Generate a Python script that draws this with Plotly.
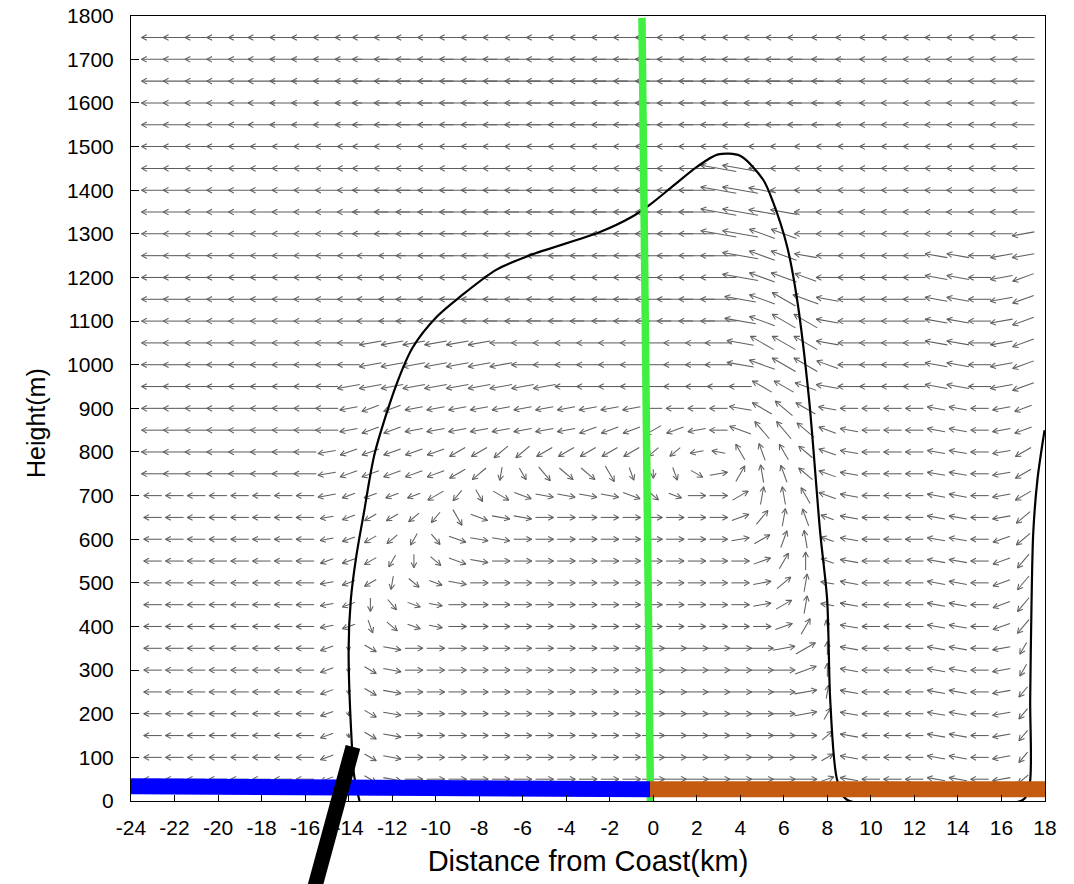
import numpy as np
import plotly.graph_objects as go

W, H = 1074, 884
# plot-area placement in the page (pixels)
PX_L, PX_R, PX_T, PX_B = 131, 1045, 15.7, 801

X_RANGE = [-24, 18]
Y_RANGE = [0, 1800]
X_TICKS = list(range(-24, 19, 2))
Y_TICKS = list(range(0, 1801, 100))

# ---- wind field ----
COLUMNS_X = list(range(-23, 18))            # 41 columns (km)
ROW_HEIGHTS = list(range(1750, 0, -50))     # 35 rows (m)
# direction code: index in DIR_CODES * 10 degrees (screen angle, 0 = east, 90 = up)
DIR_CODES = "0123456789abcdefghijklmnopqrstuvwxyz"
WIND_DIR = [
    "iiiiiiiiii iiiiiiiiii iiiiiiiiii iiiiiiiiiii",  # 1750
    "iiiiiiiiii iiiiiiiiii iiiiiiiiii iiiiiiiiiii",  # 1700
    "iiiiiiiiii iiiiiiiiii iiiiiiiiii iiiiiiiiiii",  # 1650
    "iiiiiiiiii iiiiiiiiii iiiiiiiiii iiiiiiiiiii",  # 1600
    "iiiiiiiiii iiiiiiiiii iiiiiiiiii iiiiiiiiiii",  # 1550
    "iiiiiiiiii iiiiiiiiii iiiiiiiiii iiiiiiiiiii",  # 1500
    "iiiiiiiiii iiiiiiiiii iiiiiihhii iiiiiiiiiii",  # 1450
    "iiiiiiiiii iiiiiiiiii iiiiiihhhi iiiiiiiiiii",  # 1400
    "iiiiiiiiii iiiiiiiiii iiiiiihhhh iiiiiiiiiii",  # 1350
    "iiiiiiiiii iiiiiiiiii iiiiiihhgg iiiiiiiiiij",  # 1300
    "iiiiiiiiii iiiiiiiiii iiiiiiihgg hiiiiihhijj",  # 1250
    "iiiiiiiiii iiiiiiiiii iiiiiiihgg giiiiihhijk",  # 1200
    "iiiiiiiiii iiiiiiiiii iiiiiiihgf ghiiiihhijk",  # 1150
    "iiiiiiiiii iiiiiiiiii iiiiiiihgf fhiiiihhijk",  # 1100
    "iiiiiiiiii jjjjjjiiii iiiiiiihff fhiiiihhijk",  # 1050
    "iiiiiiiiii jjjjjjjiii iiiiiiihgf fgiiiihhijk",  # 1000
    "iiiiiiiiij jjjjjjjjji iiiiiiiiff ghiiiihhijk",  # 950
    "iiiiiiiiij kkjjjjjjjj jjjiiiihfe fhiiiihhijk",  # 900
    "iiiiiiiiij kkjjjjjjjj kkklkjigdd eghiiihhijk",  # 850
    "iiiiiiiijk kkkkllmmll lllmmjhcbc eghiiihhijl",  # 800
    "iiiiiiiijk kkkklmquvw wutrtx16ab eghiiihhijl",  # 750
    "iiiiiiiijk kkklnuxyzz zzywy0038a cghiiihhijl",  # 700
    "iiiiiiiijk llmnuyzz00 0000000258 bghiiihhijm",  # 650
    "iiiiiiiijk lmovyzz000 0000000137 aghiiihhikm",  # 600
    "iiiiiiiikk lorwyz0000 0000000026 9ghiiihhikn",  # 550
    "iiiiiiiijk lqwyz00000 0000000014 8hhiiihhikn",  # 500
    "iiiiiiiijk rvyz000000 0000000013 8hhiiihhikn",  # 450
    "iiiiiiiijk twyz000000 0000000002 6ahiiihhikn",  # 400
    "iiiiiiiiks xz00000000 0000000001 39hiiihhijo",  # 350
    "iiiiiiiiks xz00000000 0000000000 29hiiihhijo",  # 300
    "iiiiiiiiks xz00000000 0000000000 18hiiihhijn",  # 250
    "iiiiiiiiks xz00000000 0000000000 16hiiihhijn",  # 200
    "iiiiiiiiks xz00000000 0000000000 04hiiihhijn",  # 150
    "iiiiiiiiks xz00000000 0000000000 03hiiihhijn",  # 100
    "iiiiiiiiks xz00000000 0000000000 02hiiihhijm",  # 50
]
# relative wind speed (0-9)
WIND_SPD = [
    "5555566666 8888888888 8888888888 87655555555",  # 1750
    "5555566666 8888888888 8888888888 87655555555",  # 1700
    "5555566666 8888888888 8888888888 87655555555",  # 1650
    "5555566666 8888888888 8888888888 87655555555",  # 1600
    "5555566666 8888888888 8888888888 87655555555",  # 1550
    "5555555555 8888888888 8888888866 55555555555",  # 1500
    "5555555555 8888888888 8888888866 55555555555",  # 1450
    "5555555555 8888888888 8888888866 55555555555",  # 1400
    "5555555555 8888888888 8888888866 55555555555",  # 1350
    "5555555555 8888888888 8888888866 55555555555",  # 1300
    "5555555555 6688888888 8888888866 55555555555",  # 1250
    "5555555555 6688888888 8888888866 55555555555",  # 1200
    "5555555555 6688888888 8888888766 65555555555",  # 1150
    "5555555555 6688888888 8888888766 65555555555",  # 1100
    "5555555555 5555555555 5555556666 65555555555",  # 1050
    "5555555555 5555555555 5555556666 65555555555",  # 1000
    "5555555555 5555555555 5555555555 55555555555",  # 950
    "5555555554 4444444444 4444444555 54444444444",  # 900
    "5555555554 4444444444 4444444555 54444444444",  # 850
    "5555555544 4444444444 4443333444 44444444444",  # 800
    "5555555544 4444443344 4432334444 44444444444",  # 750
    "4444444443 3334334444 4443344444 44444444444",  # 700
    "4444444433 3333444444 4444444444 43444444444",  # 650
    "4444444433 3333444444 4444444444 43444444444",  # 600
    "4444444433 3333444444 4444444444 43444444444",  # 550
    "4444444433 3333444444 4444444444 43444444444",  # 500
    "4444444433 3333444444 4444444444 43444444444",  # 450
    "4444444433 3333444444 4444444444 43444444444",  # 400
    "4444444431 3444444444 4445555555 53444444443",  # 350
    "4444444431 3444444444 4445555555 53444444443",  # 300
    "4444444431 3444444444 4445555555 53444444443",  # 250
    "4444444431 3444444444 4445555555 53444444443",  # 200
    "4444444431 3444444444 4445555555 53444444443",  # 150
    "4444444431 3444444444 4445555555 53444444443",  # 100
    "4444444431 3444444444 4445555555 53444444443",  # 50
]

# ---- contour line ----
CONTOUR_X = [-13.5, -13.75, -13.85, -14.0, -13.9, -13.65, -13.3, -12.8, -11.8,
             -11.05, -9.95, -8.9, -7.2, -5.66, -2.45, -0.98, -0.15, 0.87, 2.02, 2.98,
             3.99, 5.05, 5.51, 6.15, 6.61, 7.16, 7.67, 7.99, 8.13, 8.45, 8.9, 17.0,
             17.3, 17.32, 17.38, 17.46, 17.66, 17.98]
CONTOUR_Y = [0, 60, 128, 346, 461, 560, 660, 797, 955,
             1040, 1110, 1155, 1218, 1251, 1304, 1339, 1367, 1408, 1454, 1482,
             1479, 1424, 1372, 1271, 1149, 920, 615, 461, 232, 48, 3, 3,
             40, 232, 450, 615, 740, 850]

# ---- thick marker lines ----
GREEN_X, GREEN_Y = [-0.52, -0.13], [1795, 0]
BLUE_X, BLUE_Y = [-24, -0.15], [34, 27]
ORANGE_X, ORANGE_Y = [-0.15, 18], [27, 27]
BLACK_X, BLACK_Y = [-13.8, -15.65], [124, -215]

# pixel scale of the main axes
kx = (PX_R - PX_L) / (X_RANGE[1] - X_RANGE[0])
ky = (PX_B - PX_T) / (Y_RANGE[1] - Y_RANGE[0])

ax, ay = [], []
head_deg = np.deg2rad(28)
for h, drow, srow in zip(ROW_HEIGHTS, WIND_DIR, WIND_SPD):
    drow = drow.replace(" ", "")
    srow = srow.replace(" ", "")
    for x, dc, sc in zip(COLUMNS_X, drow, srow):
        ang = np.deg2rad(DIR_CODES.index(dc) * 10)
        L = int(sc) * 4.5
        if L <= 0:
            continue
        ux, uy = np.cos(ang), np.sin(ang)
        hx, hy = x + 0.5 * L * ux / kx, h + 0.5 * L * uy / ky
        tx, ty = x - 0.5 * L * ux / kx, h - 0.5 * L * uy / ky
        ax += [tx, hx, None]
        ay += [ty, hy, None]
        bl = min(6.0, 0.5 * L + 2)
        b1 = ang + np.pi + head_deg
        b2 = ang + np.pi - head_deg
        ax += [hx + bl * np.cos(b1) / kx, hx, hx + bl * np.cos(b2) / kx, None]
        ay += [hy + bl * np.sin(b1) / ky, hy, hy + bl * np.sin(b2) / ky, None]

fig = go.Figure()
fig.add_trace(go.Scatter(x=ax, y=ay, mode="lines",
                         line=dict(color="rgb(95,95,95)", width=1.05),
                         hoverinfo="skip", xaxis="x", yaxis="y"))
fig.add_trace(go.Scatter(x=CONTOUR_X, y=CONTOUR_Y, mode="lines",
                         line=dict(color="black", width=2.2, shape="spline", smoothing=0.8),
                         hoverinfo="skip", xaxis="x", yaxis="y"))
fig.add_trace(go.Scatter(x=GREEN_X, y=GREEN_Y, mode="lines",
                         line=dict(color="#40f040", width=7.5),
                         hoverinfo="skip", xaxis="x", yaxis="y"))
fig.add_trace(go.Scatter(x=BLUE_X, y=BLUE_Y, mode="lines",
                         line=dict(color="#0000ff", width=16),
                         hoverinfo="skip", xaxis="x", yaxis="y"))
fig.add_trace(go.Scatter(x=ORANGE_X, y=ORANGE_Y, mode="lines",
                         line=dict(color="#c55a11", width=16),
                         hoverinfo="skip", xaxis="x", yaxis="y"))

# overlay axes covering the whole page, with the same scale, so the black bar may leave the frame
x2_range = [X_RANGE[0] - PX_L / kx, X_RANGE[1] + (W - PX_R) / kx]
y2_range = [Y_RANGE[0] - (H - PX_B) / ky, Y_RANGE[1] + PX_T / ky]
fig.add_trace(go.Scatter(x=BLACK_X, y=BLACK_Y, mode="lines",
                         line=dict(color="black", width=15),
                         hoverinfo="skip", xaxis="x2", yaxis="y2"))

font_family = "Liberation Sans, Arial, Helvetica, sans-serif"
fig.update_layout(
    template="none",
    width=W, height=H,
    margin=dict(l=0, r=0, t=0, b=0, pad=0, autoexpand=False),
    paper_bgcolor="white",
    plot_bgcolor="rgba(0,0,0,0)",
    showlegend=False,
    font=dict(family=font_family, color="black"),
    xaxis=dict(domain=[PX_L / W, PX_R / W], range=X_RANGE, tickvals=X_TICKS,
               ticktext=[str(v) for v in X_TICKS], automargin=False,
               ticks="inside", ticklen=6, tickcolor="black", tickwidth=1,
               showline=True, linecolor="black", linewidth=1, mirror=True,
               showgrid=False, zeroline=False, tickfont=dict(size=21),
               ticklabelstandoff=8,
               title=dict(text="Distance from Coast(km)", font=dict(size=29), standoff=12),
               anchor="y"),
    yaxis=dict(domain=[1 - PX_B / H, 1 - PX_T / H], range=Y_RANGE, tickvals=Y_TICKS,
               ticktext=[str(v) for v in Y_TICKS], automargin=False,
               ticks="inside", ticklen=8, tickcolor="black", tickwidth=1,
               showline=True, linecolor="black", linewidth=1, mirror=True,
               showgrid=False, zeroline=False, tickfont=dict(size=21),
               ticklabelstandoff=12,
               anchor="x"),
    xaxis2=dict(domain=[0, 1], range=x2_range, visible=False, anchor="y2",
                fixedrange=True, automargin=False),
    yaxis2=dict(domain=[0, 1], range=y2_range, visible=False, anchor="x2",
                fixedrange=True, automargin=False),
    annotations=[dict(text="Height(m)", textangle=-90, showarrow=False,
                      xref="paper", yref="paper", x=36 / W, y=1 - 423 / H,
                      xanchor="center", yanchor="middle",
                      font=dict(size=25, family=font_family, color="black"))],
)

fig.write_html("out.html")
